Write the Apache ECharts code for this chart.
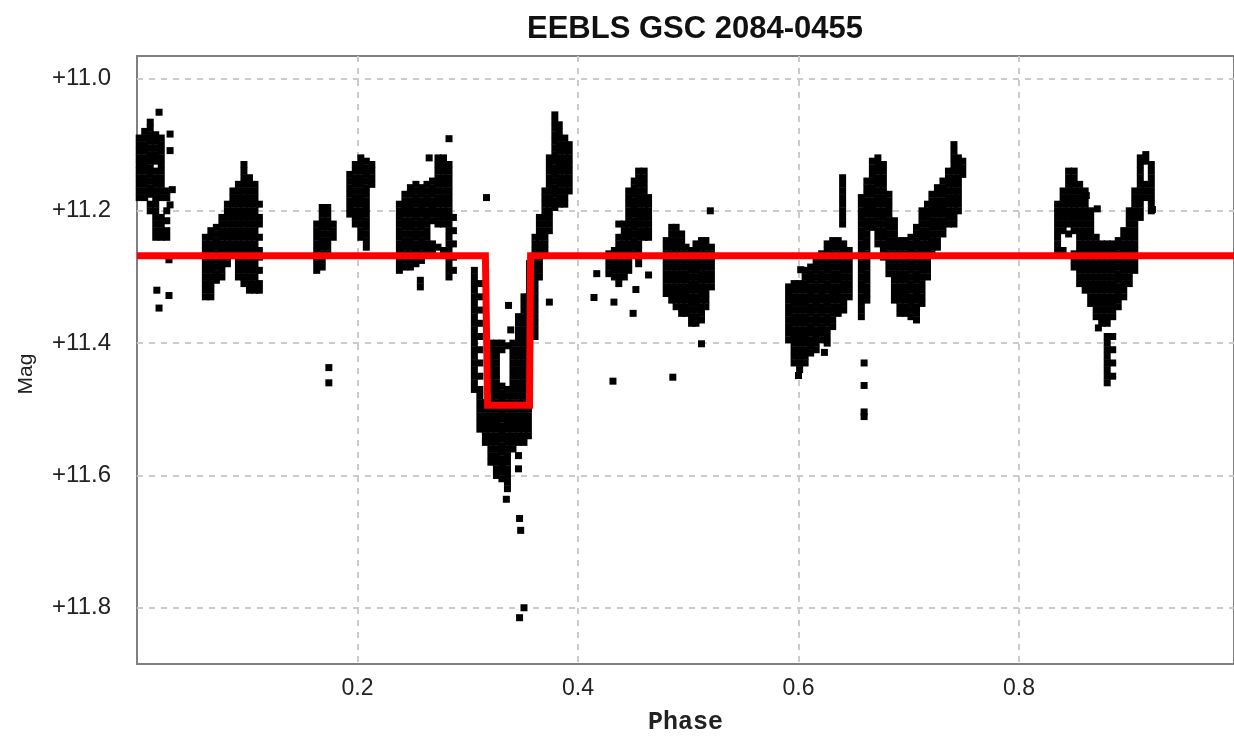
<!DOCTYPE html>
<html lang="en">
<head>
  <meta charset="utf-8">
  <title>EEBLS GSC 2084-0455</title>
  <script src="https://cdn.jsdelivr.net/npm/echarts@6.0.0/dist/echarts.min.js"></script>
  <style>
    html, body { margin: 0; padding: 0; background: #fff; overflow: hidden; }
    #chart { width: 100vw; height: 100vh; }
  </style>
</head>
<body>
<div id="chart"></div>
<script>
  // observations, one row per phase column: [phase, mag, mag, ...]
  const obsStart = [
    [0.002,11.09,11.1,11.11,11.12,11.13,11.14,11.15,11.16,11.17,11.18],
    [0.007,11.08,11.09,11.1,11.11,11.12,11.13,11.14,11.15,11.16,11.17,11.18],
    [0.012,11.066,11.075,11.085,11.095,11.105,11.115,11.125,11.135,11.145,11.155,11.165,11.175,11.19,11.2],
    [0.017,11.085,11.095,11.105,11.115,11.125,11.14,11.15,11.16,11.17,11.18,11.19,11.2,11.21,11.22,11.23,11.24],
    [0.022,11.09,11.1,11.11,11.12,11.13,11.14,11.15,11.16,11.17,11.18,11.21,11.22,11.23,11.24],
    [0.027,11.17,11.18,11.2,11.215,11.23,11.24],
    [0.062,11.24,11.25,11.26,11.27,11.28,11.29,11.3,11.31,11.32,11.33],
    [0.067,11.23,11.24,11.25,11.26,11.27,11.28,11.29,11.3,11.31,11.32,11.33],
    [0.072,11.225,11.235,11.245,11.255,11.265,11.275,11.285,11.295,11.305],
    [0.077,11.21,11.22,11.23,11.24,11.25,11.26,11.27,11.28,11.29,11.3],
    [0.082,11.19,11.2,11.21,11.22,11.23,11.24,11.25,11.26,11.27,11.28],
    [0.087,11.17,11.18,11.19,11.2,11.21,11.22,11.23,11.24,11.25,11.26],
    [0.092,11.16,11.17,11.18,11.19,11.2,11.21,11.22,11.23,11.24,11.25,11.26,11.27,11.28,11.29,11.3],
    [0.097,11.13,11.14,11.15,11.16,11.17,11.18,11.19,11.2,11.21,11.22,11.23,11.24,11.25,11.26,11.27,11.28,11.29,11.3,11.31],
    [0.102,11.15,11.16,11.17,11.18,11.19,11.2,11.21,11.22,11.23,11.24,11.25,11.26,11.27,11.28,11.29,11.3,11.31,11.32],
    [0.107,11.16,11.17,11.18,11.19,11.2,11.21,11.22,11.23,11.24,11.25,11.26,11.27,11.28,11.29,11.3,11.31,11.32],
    [0.111,11.19,11.21,11.22,11.24,11.26,11.27,11.29,11.31,11.32],
    [0.163,11.22,11.23,11.24,11.25,11.26,11.27,11.28,11.29],
    [0.168,11.195,11.205,11.215,11.225,11.235,11.245,11.255,11.265,11.275,11.285],
    [0.173,11.195,11.205,11.215,11.225,11.235,11.245,11.255,11.265],
    [0.178,11.22,11.23,11.24],
    [0.193,11.145,11.155,11.165,11.175,11.185,11.195,11.205],
    [0.198,11.13,11.14,11.15,11.16,11.17,11.18,11.19,11.2,11.21,11.22],
    [0.203,11.12,11.13,11.14,11.15,11.16,11.17,11.18,11.19,11.2,11.21,11.22,11.23,11.24],
    [0.208,11.125,11.135,11.145,11.155,11.165,11.175,11.185,11.195,11.205,11.215,11.225,11.235,11.245,11.255],
    [0.213,11.13,11.14,11.15,11.16],
    [0.238,11.19,11.2,11.21,11.22,11.23,11.24,11.25,11.26,11.27,11.28,11.29],
    [0.243,11.175,11.185,11.195,11.205,11.215,11.225,11.235,11.245,11.255,11.265,11.275,11.285],
    [0.248,11.165,11.175,11.185,11.195,11.205,11.215,11.225,11.235,11.245,11.255,11.265,11.275,11.285],
    [0.253,11.16,11.17,11.18,11.19,11.2,11.21,11.22,11.23,11.24,11.25,11.26,11.27,11.28],
    [0.258,11.165,11.175,11.185,11.195,11.205,11.215,11.225,11.235,11.245,11.255,11.265,11.275],
    [0.263,11.16,11.17,11.18,11.19,11.2,11.21,11.22,11.23,11.24,11.25,11.26],
    [0.268,11.155,11.165,11.175,11.185,11.195,11.205,11.215,11.25,11.26],
    [0.273,11.12,11.13,11.14,11.15,11.16,11.17,11.18,11.19,11.2,11.21,11.22,11.255],
    [0.278,11.12,11.13,11.14,11.15,11.16,11.17,11.18,11.19,11.2,11.21,11.22,11.26],
    [0.283,11.13,11.14,11.15,11.16,11.17,11.18,11.19,11.2,11.21,11.22,11.23,11.24,11.25,11.26,11.27,11.28,11.29,11.3],
    [0.287,11.21,11.23,11.25,11.27,11.29]
  ];

  const obsEclipse = [
    [0.306,11.29,11.3,11.31,11.32,11.33,11.34,11.35,11.36,11.37,11.38,11.39,11.4,11.41,11.42,11.43,11.44,11.45,11.46,11.47],
    [0.311,11.31,11.33,11.35,11.37,11.39,11.41,11.43,11.45,11.47,11.48,11.49,11.5,11.51,11.52,11.53],
    [0.316,11.49,11.5,11.51,11.52,11.53,11.54,11.55],
    [0.321,11.4,11.41,11.42,11.43,11.44,11.45,11.46,11.47,11.48,11.49,11.5,11.51,11.52,11.53,11.54,11.55,11.56,11.57,11.58],
    [0.326,11.4,11.41,11.42,11.43,11.44,11.45,11.46,11.47,11.48,11.49,11.5,11.51,11.52,11.53,11.54,11.55,11.56,11.57,11.58,11.59,11.6],
    [0.331,11.4,11.41,11.465,11.475,11.485,11.495,11.505,11.515,11.525,11.535,11.545,11.555,11.565,11.575,11.585,11.595,11.605],
    [0.336,11.47,11.48,11.49,11.5,11.51,11.52,11.53,11.54,11.55,11.56,11.57,11.58,11.59,11.6,11.61,11.62],
    [0.341,11.4,11.41,11.42,11.43,11.44,11.45,11.46,11.47,11.48,11.49,11.5,11.51,11.52,11.53,11.54,11.55,11.56],
    [0.346,11.36,11.37,11.38,11.39,11.4,11.41,11.42,11.43,11.44,11.45,11.46,11.47,11.48,11.49,11.5,11.51,11.52,11.53,11.54,11.55,11.57,11.59],
    [0.351,11.33,11.34,11.35,11.36,11.37,11.38,11.39,11.4,11.41,11.42,11.43,11.44,11.45,11.46,11.47,11.48,11.49,11.5,11.51,11.52,11.53,11.54,11.55],
    [0.355,11.33,11.34,11.35,11.36,11.37,11.38,11.39,11.4,11.41,11.42,11.43,11.44,11.45,11.46,11.47,11.48,11.49,11.5,11.51,11.52,11.53,11.54],
    [0.356,11.28,11.29,11.3,11.31,11.32,11.33,11.34,11.35,11.36,11.37,11.38,11.39,11.4],
    [0.361,11.24,11.25,11.26,11.27,11.28,11.29,11.3,11.31,11.32,11.33,11.34,11.35,11.36,11.37,11.38,11.39],
    [0.365,11.21,11.22,11.23,11.24,11.25,11.26,11.27,11.28,11.29,11.3],
    [0.37,11.17,11.18,11.19,11.2,11.21,11.22,11.23,11.24,11.25,11.26],
    [0.374,11.12,11.13,11.14,11.15,11.16,11.17,11.18,11.19,11.2,11.21,11.22,11.23],
    [0.379,11.055,11.065,11.075,11.085,11.095,11.105,11.115,11.125,11.135,11.145,11.155,11.165,11.175,11.185,11.195],
    [0.383,11.07,11.08,11.09,11.1,11.11,11.12,11.13,11.14,11.15,11.16,11.17,11.18,11.19],
    [0.388,11.09,11.1,11.11,11.12,11.13,11.14,11.15,11.16,11.17,11.18,11.19],
    [0.392,11.1,11.11,11.12,11.13,11.14,11.15,11.16,11.17]
  ];

  const obsMiddle = [
    [0.428,11.265,11.275,11.285,11.295],
    [0.433,11.26,11.27,11.28,11.29,11.3],
    [0.437,11.22,11.24,11.25,11.26,11.27,11.28,11.29,11.3,11.31],
    [0.442,11.22,11.23,11.24,11.25,11.26,11.27,11.28,11.29,11.3],
    [0.446,11.17,11.18,11.19,11.2,11.21,11.22,11.23,11.24,11.25,11.26,11.27,11.28,11.29],
    [0.451,11.155,11.165,11.175,11.185,11.195,11.205,11.215,11.225,11.235,11.245,11.255,11.265],
    [0.455,11.14,11.15,11.16,11.17,11.18,11.19,11.2,11.21,11.22,11.23,11.24,11.25,11.26,11.27,11.28],
    [0.46,11.14,11.15,11.16,11.17,11.18,11.19,11.2,11.21,11.22,11.23,11.24],
    [0.464,11.18,11.19,11.2,11.21,11.22,11.23,11.24],
    [0.48,11.245,11.255,11.265,11.275,11.285,11.295,11.305,11.315,11.325],
    [0.485,11.225,11.235,11.245,11.255,11.265,11.275,11.285,11.295,11.305,11.315,11.325,11.335],
    [0.489,11.225,11.235,11.245,11.255,11.265,11.275,11.285,11.295,11.305,11.315,11.325,11.335,11.345],
    [0.494,11.235,11.245,11.255,11.265,11.275,11.285,11.295,11.305,11.315,11.325,11.335,11.345,11.355],
    [0.498,11.255,11.265,11.275,11.285,11.295,11.305,11.315,11.325,11.335,11.345,11.355],
    [0.503,11.26,11.27,11.28,11.29,11.3,11.31,11.32,11.33,11.34,11.35,11.36,11.37],
    [0.507,11.25,11.26,11.27,11.28,11.29,11.3,11.31,11.32,11.33,11.34,11.35,11.36,11.37],
    [0.512,11.245,11.255,11.265,11.275,11.285,11.295,11.305,11.315,11.325,11.335,11.345,11.355,11.365],
    [0.516,11.245,11.255,11.265,11.275,11.285,11.295,11.305,11.315,11.325,11.335,11.345],
    [0.521,11.255,11.265,11.275,11.285,11.295,11.305,11.315],
    [0.591,11.315,11.325,11.335,11.345,11.355,11.365,11.375,11.385,11.395],
    [0.596,11.31,11.32,11.33,11.34,11.35,11.36,11.37,11.38,11.39,11.4,11.41,11.42,11.43],
    [0.601,11.31,11.32,11.33,11.34,11.35,11.36,11.37,11.38,11.39,11.4,11.41,11.42,11.43,11.44],
    [0.606,11.29,11.3,11.31,11.32,11.33,11.34,11.35,11.36,11.37,11.38,11.39,11.4,11.41,11.42,11.43],
    [0.611,11.285,11.295,11.305,11.315,11.325,11.335,11.345,11.355,11.365,11.375,11.385,11.395,11.405,11.415],
    [0.616,11.27,11.28,11.29,11.3,11.31,11.32,11.33,11.34,11.35,11.36,11.37,11.38,11.39,11.4,11.41],
    [0.621,11.265,11.275,11.285,11.295,11.305,11.315,11.325,11.335,11.345,11.355,11.365,11.375,11.385,11.395],
    [0.626,11.25,11.26,11.27,11.28,11.29,11.3,11.31,11.32,11.33,11.34,11.35,11.36,11.37,11.38,11.39,11.4],
    [0.631,11.245,11.255,11.265,11.275,11.285,11.295,11.305,11.315,11.325,11.335,11.345,11.355,11.365,11.375],
    [0.636,11.245,11.255,11.265,11.275,11.285,11.295,11.305,11.315,11.325,11.335,11.345,11.355],
    [0.64,11.15,11.16,11.17,11.18,11.19,11.2,11.21,11.22],
    [0.641,11.25,11.26,11.27,11.28,11.29,11.3,11.31,11.32,11.33,11.34,11.35],
    [0.646,11.26,11.27,11.28,11.29,11.3,11.31,11.32,11.33]
  ];

  const obsEnd = [
    [0.657,11.18,11.19,11.2,11.21,11.22,11.23,11.24,11.25,11.26,11.27,11.28,11.29,11.3,11.31,11.32,11.33,11.34,11.35,11.36],
    [0.662,11.155,11.165,11.175,11.185,11.195,11.205,11.215,11.225,11.235,11.245,11.255,11.265,11.275,11.285,11.295,11.305,11.315,11.325,11.335],
    [0.667,11.125,11.135,11.145,11.155,11.165,11.175,11.185,11.195,11.205,11.215,11.225],
    [0.672,11.12,11.13,11.14,11.15,11.16,11.17,11.18,11.19,11.2,11.21,11.22,11.23,11.24,11.25],
    [0.677,11.13,11.14,11.15,11.16,11.17,11.18,11.19,11.2,11.21,11.22,11.23,11.24,11.25,11.26,11.27],
    [0.682,11.175,11.185,11.195,11.205,11.215,11.225,11.235,11.245,11.255,11.265,11.275,11.285,11.295],
    [0.687,11.215,11.225,11.235,11.245,11.255,11.265,11.275,11.285,11.295,11.305,11.315,11.325,11.335],
    [0.692,11.245,11.255,11.265,11.275,11.285,11.295,11.305,11.315,11.325,11.335,11.345,11.355],
    [0.697,11.245,11.255,11.265,11.275,11.285,11.295,11.305,11.315,11.325,11.335,11.345,11.355],
    [0.702,11.24,11.25,11.26,11.27,11.28,11.29,11.3,11.31,11.32,11.33,11.34,11.35,11.36],
    [0.707,11.225,11.235,11.245,11.255,11.265,11.275,11.285,11.295,11.305,11.315,11.325,11.335,11.345,11.355,11.365],
    [0.712,11.2,11.21,11.22,11.23,11.24,11.25,11.26,11.27,11.28,11.29,11.3,11.31,11.32,11.33,11.34],
    [0.717,11.19,11.2,11.21,11.22,11.23,11.24,11.25,11.26,11.27,11.28,11.29,11.3],
    [0.721,11.175,11.185,11.195,11.205,11.215,11.225,11.235,11.245,11.255,11.265],
    [0.726,11.165,11.175,11.185,11.195,11.205,11.215,11.225,11.235,11.245,11.255],
    [0.731,11.155,11.165,11.175,11.185,11.195,11.205,11.215,11.225,11.235],
    [0.736,11.14,11.15,11.16,11.17,11.18,11.19,11.2,11.21,11.22],
    [0.741,11.1,11.11,11.12,11.13,11.14,11.15,11.16,11.17,11.18,11.19,11.2,11.21,11.22],
    [0.745,11.12,11.13,11.14,11.15,11.16,11.17,11.18,11.19,11.2],
    [0.749,11.125,11.135,11.145],
    [0.835,11.19,11.2,11.21,11.22,11.23,11.24,11.25,11.26],
    [0.84,11.17,11.18,11.19,11.2,11.21,11.22,11.23,11.26],
    [0.845,11.14,11.15,11.16,11.17,11.18,11.19,11.2,11.21,11.22,11.235],
    [0.85,11.14,11.15,11.16,11.17,11.18,11.19,11.2,11.21,11.22,11.23,11.265,11.275,11.285],
    [0.855,11.16,11.17,11.18,11.19,11.2,11.21,11.22,11.23,11.24,11.25,11.26,11.27,11.28,11.29,11.3,11.31],
    [0.86,11.17,11.18,11.19,11.2,11.21,11.22,11.23,11.24,11.25,11.26,11.27,11.28,11.29,11.3,11.31,11.32],
    [0.865,11.2,11.21,11.22,11.23,11.24,11.25,11.26,11.27,11.28,11.29,11.3,11.31,11.32,11.33,11.34],
    [0.87,11.24,11.25,11.26,11.27,11.28,11.29,11.3,11.31,11.32,11.33,11.34,11.35,11.36],
    [0.875,11.25,11.26,11.27,11.28,11.29,11.3,11.31,11.32,11.33,11.34,11.35,11.36,11.37],
    [0.88,11.25,11.26,11.27,11.28,11.29,11.3,11.31,11.32,11.33,11.34,11.35,11.36,11.37,11.39,11.4,11.41,11.42,11.43,11.44,11.45,11.46],
    [0.885,11.25,11.26,11.27,11.28,11.29,11.3,11.31,11.32,11.33,11.34,11.35,11.36,11.39,11.41,11.43,11.45],
    [0.89,11.245,11.255,11.265,11.275,11.285,11.295,11.305,11.315,11.325,11.335,11.345],
    [0.895,11.23,11.24,11.25,11.26,11.27,11.28,11.29,11.3,11.31,11.32,11.33],
    [0.9,11.2,11.21,11.22,11.23,11.24,11.25,11.26,11.27,11.28,11.29,11.3,11.31],
    [0.905,11.17,11.18,11.19,11.2,11.21,11.22,11.23,11.24,11.25,11.26,11.27,11.28,11.29],
    [0.91,11.12,11.13,11.14,11.15,11.16,11.17,11.18,11.19,11.2,11.21],
    [0.915,11.115,11.125,11.16,11.17,11.18],
    [0.92,11.13,11.14,11.15,11.16,11.17,11.18,11.19,11.2]
  ];

  // isolated points: [phase, mag]
  const strayPoints = [
    [0.02,11.051],[0.03,11.084],[0.03,11.109],[0.032,11.168],[0.03,11.191],[0.029,11.274],
    [0.018,11.32],[0.029,11.328],[0.02,11.347],[0.174,11.437],[0.174,11.46],
    [0.283,11.091],[0.265,11.12],[0.257,11.305],[0.257,11.315],[0.317,11.18],
    [0.337,11.343],[0.339,11.38],[0.337,11.404],
    [0.335,11.636],[0.347,11.665],[0.348,11.683],[0.351,11.8],[0.347,11.815],
    [0.374,11.338],[0.417,11.295],[0.4145,11.331],[0.4326,11.338],[0.45,11.355],
    [0.4525,11.319],[0.464,11.297],[0.4317,11.4575],[0.486,11.4515],[0.512,11.401],[0.52,11.2],
    [0.6,11.449],[0.602,11.289],[0.6235,11.414],
    [0.6595,11.43],[0.6595,11.464],[0.6595,11.504],[0.6595,11.511],
    [0.861,11.177],[0.871,11.197],[0.921,11.198],[0.872,11.377]
  ];

  // box-shaped eclipse model (red line)
  const modelPhase = [0, 0.316, 0.318, 0.356, 0.357, 1.0];
  const modelMag = [11.268, 11.268, 11.494, 11.494, 11.268, 11.268];

  const phaseTicks = [0.2, 0.4, 0.6, 0.8];
  const magTicks = [11.0, 11.2, 11.4, 11.6, 11.8];

  let points = [];
  [obsStart, obsEclipse, obsMiddle, obsEnd].forEach(function (block) {
    block.forEach(function (col) {
      for (let i = 1; i < col.length; i++) points.push([col[0], col[i]]);
    });
  });
  points = points.concat(strayPoints);

  const model = modelPhase.map(function (p, i) { return [p, modelMag[i]]; });

  const gridLine = { show: true, lineStyle: { color: '#cbcbcb', width: 2, type: [6, 6] } };

  const chart = echarts.init(document.getElementById('chart'));
  chart.setOption({
    animation: false,
    title: {
      text: 'EEBLS GSC 2084-0455',
      left: 690,
      top: 9,
      textAlign: 'center',
      textStyle: { fontFamily: 'Liberation Sans, Arial, sans-serif', fontWeight: 'bold', fontSize: 31, color: '#111' }
    },
    grid: { left: 137, right: -3, top: 56, bottom: 67, show: true, borderColor: '#808080', borderWidth: 2 },
    xAxis: {
      type: 'value', min: 0, max: 0.995,
      name: 'Phase', nameLocation: 'middle', nameGap: 46,
      nameTextStyle: { fontFamily: 'Liberation Mono, Courier New, monospace', fontSize: 25, fontWeight: 'bold', color: '#222' },
      axisLine: { show: false },
      axisTick: { show: false, customValues: phaseTicks },
      axisLabel: { customValues: phaseTicks, margin: 13, fontSize: 23, color: '#222',
        fontFamily: 'Liberation Sans, Arial, sans-serif', formatter: function (v) { return v.toFixed(1); } },
      splitLine: gridLine
    },
    yAxis: {
      type: 'value', inverse: true, min: 10.966, max: 11.885,
      name: 'Mag', nameLocation: 'middle', nameGap: 100, nameRotate: 90,
      nameTextStyle: { fontFamily: 'Liberation Sans, Arial, sans-serif', fontSize: 21, color: '#222', padding: [0, 28, 0, 0] },
      axisLine: { show: false },
      axisTick: { show: false, customValues: magTicks },
      axisLabel: { customValues: magTicks, margin: 26, fontSize: 24, color: '#222',
        fontFamily: 'Liberation Sans, Arial, sans-serif', formatter: function (v) { return '+' + v.toFixed(1); } },
      splitLine: gridLine
    },
    series: [
      {
        type: 'scatter', data: points, symbol: 'rect', symbolSize: 7,
        itemStyle: { color: '#000', opacity: 1 }, z: 2, silent: true
      },
      {
        type: 'line', data: model, showSymbol: false, symbol: 'none', clip: true,
        lineStyle: { color: '#ff0000', width: 7, join: 'miter' }, z: 3, silent: true
      }
    ]
  });
</script>
</body>
</html>
